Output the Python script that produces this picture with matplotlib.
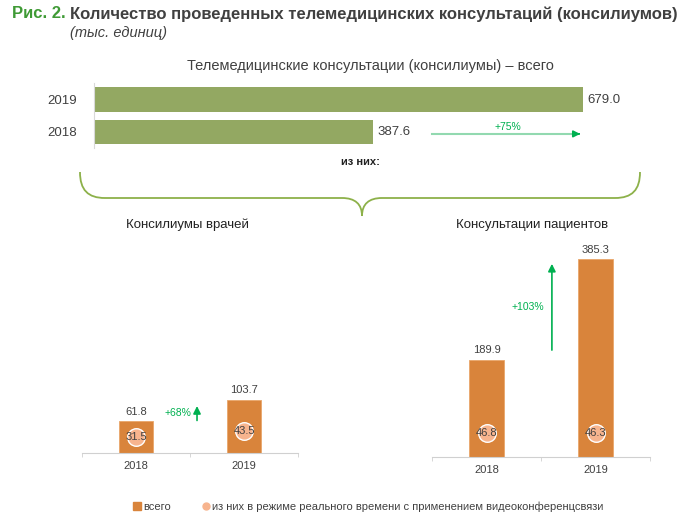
import numpy as np
import matplotlib
matplotlib.use('Agg')
import matplotlib.pyplot as plt
from matplotlib.path import Path
from matplotlib.patches import PathPatch
from matplotlib.lines import Line2D

plt.rcParams['font.family'] = ['Liberation Sans', 'DejaVu Sans']

W, H = 700, 524
GRAY = '#404040'
GREEN_BAR = '#93a862'
ORANGE = '#d9843b'
PINK = '#f7b48e'
ARROW = '#00b050'

# data
years = ['2018', '2019']
total = [387.6, 679.0]
doctors = [61.8, 103.7]
doctors_rt = [31.5, 43.5]
patients = [189.9, 385.3]
patients_rt = [46.8, 46.3]
growth_total, growth_doc, growth_pat = '+75%', '+68%', '+103%'


def box(x0, y0, x1, y1):
    return [x0 / W, 1 - y1 / H, (x1 - x0) / W, (y1 - y0) / H]


fig = plt.figure(figsize=(W / 100, H / 100), dpi=100)

# overlay for titles and brace
ov = fig.add_axes([0, 0, 1, 1], zorder=0)
ov.set_xlim(0, W); ov.set_ylim(H, 0); ov.axis('off')
ov.text(12, 14, 'Рис. 2.', color='#3f9a35', fontsize=12, fontweight='bold', va='center')
ov.text(70, 14, 'Количество проведенных телемедицинских консультаций (консилиумов)',
        color=GRAY, fontsize=12, fontweight='bold', va='center')
ov.text(70, 33, '(тыс. единиц)', color=GRAY, fontsize=10.5, style='italic', va='center')
ov.text(370, 66, 'Телемедицинские консультации (консилиумы) – всего', color=GRAY,
        fontsize=10.5, ha='center', va='center')
ov.text(360, 162, 'из них:', color='#222222', fontsize=8, fontweight='bold', ha='center', va='center')
ov.text(187, 225, 'Консилиумы врачей', color='#222222', fontsize=9.5, ha='center', va='center')
ov.text(532, 225, 'Консультации пациентов', color='#222222', fontsize=9.5, ha='center', va='center')

verts = [(80, 172), (80, 190), (88, 198), (105, 198), (342, 198),
         (355, 198), (362, 204), (362, 216),
         (362, 204), (369, 198), (382, 198), (615, 198),
         (632, 198), (640, 190), (640, 172)]
codes = [Path.MOVETO, Path.CURVE4, Path.CURVE4, Path.CURVE4, Path.LINETO,
         Path.CURVE4, Path.CURVE4, Path.CURVE4,
         Path.CURVE4, Path.CURVE4, Path.CURVE4, Path.LINETO,
         Path.CURVE4, Path.CURVE4, Path.CURVE4]
ov.add_patch(PathPatch(Path(verts, codes), fill=False, ec='#8db14a', lw=1.3))

# top horizontal bars
ax = fig.add_axes(box(94, 83, 650, 148))
ax.barh([0, 1], total, height=0.78, color=GREEN_BAR, left=0)
ax.set_xlim(0, 679.0 * 556 / 489)
ax.set_ylim(-0.5, 1.53)
ax.set_yticks([0, 1], years)
ax.tick_params(axis='y', length=0, labelsize=9.5, labelcolor=GRAY, pad=12)
ax.set_xticks([])
for s in ['top', 'right', 'bottom']:
    ax.spines[s].set_visible(False)
ax.spines['left'].set_color('#d9d9d9')
for i, v in enumerate(total):
    ax.text(v + 6, i, f'{v:.1f}', va='center', ha='left', fontsize=9.5, color=GRAY)
ax.plot([total[0] + 82, total[1] - 8], [-0.06, -0.06], color='#92d9b0', lw=1.5)
ax.annotate('', xy=(total[1], -0.06), xytext=(total[1] - 10, -0.06),
            arrowprops=dict(arrowstyle='-|>', color=ARROW, lw=1.2, mutation_scale=10))
ax.text((total[0] + 82 + total[1]) / 2, 0.17, growth_total, color=ARROW, fontsize=7.5, ha='center', va='center')


def small_chart(rect, vals, rt, growth, arrow_x, arrow_from, arrow_to, text_dx):
    a = fig.add_axes(rect)
    x = np.arange(len(years))
    a.bar(x, vals, width=0.32, color=ORANGE, edgecolor='#e9a66a', lw=0.6, zorder=2)
    a.scatter(x, rt, s=160, color=PINK, edgecolor='white', lw=1, zorder=3)
    for xi, v, r in zip(x, vals, rt):
        a.text(xi, v + 9, f'{v:.1f}', ha='center', va='bottom', fontsize=8, color=GRAY)
        a.text(xi, r, f'{r:.1f}', ha='center', va='center', fontsize=8, color=GRAY, zorder=4)
    a.annotate('', xy=(arrow_x, arrow_to), xytext=(arrow_x, arrow_from),
               arrowprops=dict(arrowstyle='-|>', color=ARROW, lw=1.2, mutation_scale=11))
    a.text(arrow_x - text_dx, (arrow_from + arrow_to) / 2, growth, color=ARROW, fontsize=7.5,
           ha='center', va='center')
    a.set_xlim(-0.5, 1.5)
    a.set_ylim(0, rect[3] * H / 0.513)
    a.set_xticks(x, years)
    a.set_xticks([-0.5, 0.5, 1.5], minor=True)
    a.tick_params(axis='x', which='major', length=0, labelsize=8, labelcolor=GRAY, pad=6)
    a.tick_params(axis='x', which='minor', length=3, color='#d0d0d0')
    a.set_yticks([])
    for s in ['top', 'right', 'left']:
        a.spines[s].set_visible(False)
    a.spines['bottom'].set_color('#d0d0d0')
    return a


small_chart(box(82, 240, 298, 453), doctors, doctors_rt, growth_doc, 0.565, 58, 97, 0.18)
small_chart(box(432, 240, 650, 457), patients, patients_rt, growth_pat, 0.6, 203, 382, 0.22)

handles = [Line2D([], [], marker='s', ls='', color=ORANGE, markersize=6),
           Line2D([], [], marker='o', ls='', color=PINK, markersize=5)]
fig.legend(handles, ['всего', 'из них в режиме реального времени с применением видеоконференцсвязи'],
           loc='center', bbox_to_anchor=(368 / W, 1 - 507 / H), ncol=2, frameon=False,
           fontsize=8, labelcolor=GRAY, handletextpad=0.1, columnspacing=2.8, handlelength=0.8)

fig.savefig('out.png', dpi=100)
